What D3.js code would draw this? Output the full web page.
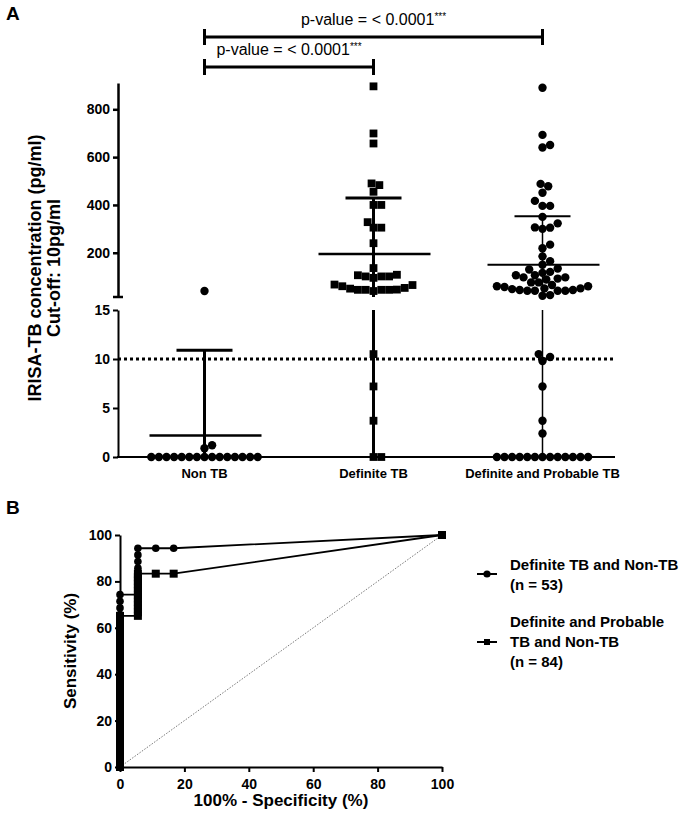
<!DOCTYPE html>
<html>
<head>
<meta charset="utf-8">
<script src="https://cdn.jsdelivr.net/npm/d3@7"></script>
<style>
  body { margin: 0; background: #fff; }
  svg { font-family: "Liberation Sans", Arial, Helvetica, sans-serif; }
</style>
</head>
<body>
<div id="chart"></div>
<script>
// ---- panel A data (pg/ml) ----
var groups = ["Non TB", "Definite TB", "Definite and Probable TB"];
var nonTB = [40, 1.2, 0.9, 0, 0, 0, 0, 0, 0, 0, 0, 0, 0, 0, 0, 0, 0, 0];
var definiteTB = [896, 699, 657, 483, 490, 455, 400, 400, 305, 305, 328, 240,
  136, 101, 95, 101, 101, 106, 108, 53, 60, 45, 45, 65, 40, 45, 45, 46, 67, 50,
  10.5, 7.2, 3.7, 0, 0];
var defProbTB = [890, 693, 640, 651, 478, 488, 451, 396, 417, 396, 350, 306, 305, 300, 323,
  219, 234, 185, 165, 150, 134, 130, 120, 116, 106, 106, 97, 88, 92, 97, 76, 65, 76,
  51, 60, 44, 44, 51, 41, 41, 41, 41, 57, 60, 48, 23, 20,
  10.5, 10.2, 9.8, 7.2, 3.7, 2.4, 0, 0, 0, 0, 0, 0, 0, 0, 0, 0, 0, 0, 0];
var groupMean = [2.2, 195, 150];
var groupSDTop = [10.9, 429, 353];
var cutoff = 10;
var yHiTicks = [200, 400, 600, 800];
var yLoTicks = [0, 5, 10, 15];
var pLabel = "p-value = < 0.0001";
var comparisons = [["Non TB", "Definite and Probable TB"], ["Non TB", "Definite TB"]];

// ---- panel B data (ROC, %) ----
var roc1Fpr = [0, 0, 0, 0, 0, 0, 0, 0, 0, 0, 0, 0, 0, 0, 0, 0, 0, 0, 0, 0, 0, 0, 0, 0, 0, 0, 0,
  5.56, 5.56, 5.56, 5.56, 5.56, 5.56, 5.56, 5.56, 11.11, 16.67, 100];
var roc1Sens = [0, 2.86, 5.71, 8.57, 11.43, 14.29, 17.14, 20.00, 22.86, 25.71, 28.57, 31.43, 34.29,
  37.14, 40.00, 42.86, 45.71, 48.57, 51.43, 54.29, 57.14, 60.00, 62.86, 65.71, 68.57, 71.43, 74.29,
  74.29, 77.14, 80.00, 82.86, 85.71, 88.57, 91.43, 94.29, 94.29, 94.29, 100];
var roc2Fpr = [0, 0, 0, 0, 0, 0, 0, 0, 0, 0, 0, 0, 0, 0, 0, 0, 0, 0, 0, 0, 0, 0,
  0, 0, 0, 0, 0, 0, 0, 0, 0, 0, 0, 0, 0, 0, 0, 0, 0, 0, 0, 0, 0, 0,
  5.56, 5.56, 5.56, 5.56, 5.56, 5.56, 5.56, 5.56, 5.56, 5.56, 5.56, 5.56, 5.56, 11.11, 16.67, 100];
var roc2Sens = [0, 1.52, 3.03, 4.55, 6.06, 7.58, 9.09, 10.61, 12.12, 13.64, 15.15, 16.67, 18.18, 19.70,
  21.21, 22.73, 24.24, 25.76, 27.27, 28.79, 30.30, 31.82, 33.33, 34.85, 36.36, 37.88, 39.39, 40.91,
  42.42, 43.94, 45.45, 46.97, 48.48, 50.00, 51.52, 53.03, 54.55, 56.06, 57.58, 59.09, 60.61, 62.12,
  63.64, 65.15,
  65.15, 66.67, 68.18, 69.70, 71.21, 72.73, 74.24, 75.76, 77.27, 78.79, 80.30, 81.82, 83.33,
  83.33, 83.33, 100];
var rocTicks = [0, 20, 40, 60, 80, 100];
var legendLines = [["Definite TB and Non-TB", "(n = 53)"], ["Definite and Probable", "TB and Non-TB", "(n = 84)"]];

var width = 700, height = 820;
var svg = d3.select("#chart").append("svg")
    .attr("width", width)
    .attr("height", height);

function styleAxis(g, w) {
    g.attr("font-family", null).attr("font-size", 14);
    g.select(".domain").attr("stroke", "#000").attr("stroke-width", w);
    g.selectAll(".tick line").attr("stroke", "#000").attr("stroke-width", w);
    g.selectAll(".tick text").attr("fill", "#000").attr("font-weight", "bold");
}

// ================= Panel A =================
svg.append("text").attr("x", 6).attr("y", 20)
    .attr("font-size", 19).attr("font-weight", "bold").text("A");

var x = d3.scalePoint().domain(groups).range([120, 627]).padding(0.5);
var yHi = d3.scaleLinear().domain([15, 910]).range([297, 83]);
var yLo = d3.scaleLinear().domain([0, 15]).range([457, 310]);
function yVal(v) { return v > 15 ? yHi(v) : yLo(v); }

// cut-off line
svg.append("line")
    .attr("x1", 118).attr("x2", 615)
    .attr("y1", yLo(cutoff)).attr("y2", yLo(cutoff))
    .attr("stroke", "#000").attr("stroke-width", 3)
    .attr("stroke-dasharray", "3,3");

// error bars (mean and upper SD)
var whiskerW = [3, 3, 1.5], meanW = [2.5, 2.5, 2];
groups.forEach(function (g, i) {
    var cx = x(g);
    var top = groupSDTop[i];
    var segs = top > 15 ? [[yHi(top), yHi(15)], [yLo(15), yLo(0)]] : [[yLo(top), yLo(0)]];
    segs.forEach(function (s) {
        svg.append("line").attr("x1", cx).attr("x2", cx).attr("y1", s[0]).attr("y2", s[1])
            .attr("stroke", "#000").attr("stroke-width", whiskerW[i]);
    });
    svg.append("line").attr("x1", cx - 28).attr("x2", cx + 28)
        .attr("y1", yVal(top)).attr("y2", yVal(top))
        .attr("stroke", "#000").attr("stroke-width", whiskerW[i] == 3 ? 3 : 2);
    svg.append("line").attr("x1", cx - 55).attr("x2", cx + 57)
        .attr("y1", yVal(groupMean[i])).attr("y2", yVal(groupMean[i]))
        .attr("stroke", "#000").attr("stroke-width", meanW[i]);
});

// simple beeswarm: bottom points first, nearest free slot to the centre
function swarm(values, cx, diam) {
    var pts = values.map(function (v) { return { v: v, y: yVal(v) }; });
    var order = pts.slice().sort(function (a, b) { return b.y - a.y; });
    var placed = [];
    order.forEach(function (p) {
        var step = diam / 4;
        for (var k = 0; k < 400; k++) {
            var off = (k % 2 ? 1 : -1) * Math.ceil(k / 2) * step;
            var ok = placed.every(function (q) {
                var dx = q.x - (cx + off), dy = q.y - p.y;
                return dx * dx + dy * dy >= diam * diam - 0.01;
            });
            if (ok) { p.x = cx + off; break; }
        }
        placed.push(p);
    });
    return pts;
}

var circleGroups = [[nonTB, groups[0]], [defProbTB, groups[2]]];
circleGroups.forEach(function (c) {
    svg.append("g").selectAll("circle")
        .data(swarm(c[0], x(c[1]), 7.6))
        .enter().append("circle")
        .attr("cx", function (d) { return d.x; })
        .attr("cy", function (d) { return d.y; })
        .attr("r", 4.2)
        .attr("fill", "#000");
});
svg.append("g").selectAll("rect")
    .data(swarm(definiteTB, x(groups[1]), 7.8))
    .enter().append("rect")
    .attr("x", function (d) { return d.x - 3.9; })
    .attr("y", function (d) { return d.y - 3.9; })
    .attr("width", 7.8).attr("height", 7.8)
    .attr("fill", "#000");

// axes
var axHi = svg.append("g").attr("transform", "translate(118,0)")
    .call(d3.axisLeft(yHi).tickValues(yHiTicks).tickSize(5).tickSizeOuter(0).tickPadding(3));
styleAxis(axHi, 2.5);
svg.append("line").attr("x1", 113).attr("x2", 123).attr("y1", yHi(15)).attr("y2", yHi(15))
    .attr("stroke", "#000").attr("stroke-width", 2.5);
var axLo = svg.append("g").attr("transform", "translate(118,0)")
    .call(d3.axisLeft(yLo).tickValues(yLoTicks).tickSize(5).tickSizeOuter(0).tickPadding(3));
styleAxis(axLo, 2);
svg.append("line").attr("x1", 117).attr("x2", 615).attr("y1", yLo(0)).attr("y2", yLo(0))
    .attr("stroke", "#000").attr("stroke-width", 2);
svg.append("g").selectAll("text").data(groups).enter().append("text")
    .attr("x", function (d) { return x(d); })
    .attr("y", 478)
    .attr("text-anchor", "middle")
    .attr("font-size", 13).attr("font-weight", "bold")
    .text(function (d) { return d; });

var ttlA = svg.append("text")
    .attr("transform", "translate(41,268) rotate(-90)")
    .attr("text-anchor", "middle")
    .attr("font-size", 18).attr("font-weight", "bold");
ttlA.append("tspan").attr("x", 0).attr("y", 0).text("IRISA-TB concentration (pg/ml)");
ttlA.append("tspan").attr("x", 0).attr("y", 19).text("Cut-off: 10pg/ml");

// significance brackets
var brY = [37, 67];
comparisons.forEach(function (c, i) {
    var x1 = x(c[0]), x2 = x(c[1]), by = brY[i];
    svg.append("path")
        .attr("d", "M" + x1 + "," + (by - 8) + "V" + (by + 8) + "M" + x1 + "," + by + "H" + x2 +
            "M" + x2 + "," + (by - 8) + "V" + (by + 8))
        .attr("fill", "none").attr("stroke", "#000").attr("stroke-width", 3);
    var t = svg.append("text")
        .attr("x", (x1 + x2) / 2).attr("y", by - 12)
        .attr("text-anchor", "middle").attr("font-size", 16);
    t.append("tspan").text(pLabel);
    t.append("tspan").attr("font-size", 10).attr("dy", -5).text("***");
});

// ================= Panel B =================
svg.append("text").attr("x", 6).attr("y", 514)
    .attr("font-size", 19).attr("font-weight", "bold").text("B");

var xR = d3.scaleLinear().domain([0, 100]).range([120, 442]);
var yR = d3.scaleLinear().domain([0, 100]).range([767, 535]);

svg.append("line")
    .attr("x1", xR(0)).attr("y1", yR(0)).attr("x2", xR(100)).attr("y2", yR(100))
    .attr("stroke", "#555").attr("stroke-width", 0.8)
    .attr("stroke-dasharray", "1.5,1.5");

var roc1 = roc1Fpr.map(function (f, i) { return { fpr: f, sens: roc1Sens[i] }; });
var roc2 = roc2Fpr.map(function (f, i) { return { fpr: f, sens: roc2Sens[i] }; });
var rocLine = d3.line()
    .x(function (d) { return xR(d.fpr); })
    .y(function (d) { return yR(d.sens); });

svg.append("path").datum(roc2).attr("d", rocLine)
    .attr("fill", "none").attr("stroke", "#000").attr("stroke-width", 1.8);
svg.append("path").datum(roc1).attr("d", rocLine)
    .attr("fill", "none").attr("stroke", "#000").attr("stroke-width", 1.8);
svg.append("g").selectAll("rect").data(roc2).enter().append("rect")
    .attr("x", function (d) { return xR(d.fpr) - 4; })
    .attr("y", function (d) { return yR(d.sens) - 4; })
    .attr("width", 8).attr("height", 8).attr("fill", "#000");
svg.append("g").selectAll("circle").data(roc1).enter().append("circle")
    .attr("cx", function (d) { return xR(d.fpr); })
    .attr("cy", function (d) { return yR(d.sens); })
    .attr("r", 3.8).attr("fill", "#000");

var axX = svg.append("g").attr("transform", "translate(0,767)")
    .call(d3.axisBottom(xR).tickValues(rocTicks).tickSize(5).tickSizeOuter(0).tickPadding(7));
styleAxis(axX, 2);
var axY = svg.append("g").attr("transform", "translate(120,0)")
    .call(d3.axisLeft(yR).tickValues(rocTicks).tickSize(5).tickSizeOuter(0).tickPadding(3));
styleAxis(axY, 2);

svg.append("text").attr("x", (xR(0) + xR(100)) / 2).attr("y", 806)
    .attr("text-anchor", "middle").attr("font-size", 17).attr("font-weight", "bold")
    .text("100% - Specificity (%)");
svg.append("text").attr("transform", "translate(76,651) rotate(-90)")
    .attr("text-anchor", "middle").attr("font-size", 17).attr("font-weight", "bold")
    .text("Sensitivity (%)");

// legend
var legY = [574, 642], legTop = [570, 627];
legendLines.forEach(function (lines, i) {
    svg.append("line").attr("x1", 477).attr("x2", 497).attr("y1", legY[i]).attr("y2", legY[i])
        .attr("stroke", "#000").attr("stroke-width", 2);
    if (i == 0) {
        svg.append("circle").attr("cx", 487).attr("cy", legY[i]).attr("r", 3.6).attr("fill", "#000");
    } else {
        svg.append("rect").attr("x", 484).attr("y", legY[i] - 3).attr("width", 6).attr("height", 6).attr("fill", "#000");
    }
    svg.append("g").selectAll("text").data(lines).enter().append("text")
        .attr("x", 510)
        .attr("y", function (d, j) { return legTop[i] + j * 20; })
        .attr("font-size", 15).attr("font-weight", "bold")
        .text(function (d) { return d; });
});
</script>
</body>
</html>
